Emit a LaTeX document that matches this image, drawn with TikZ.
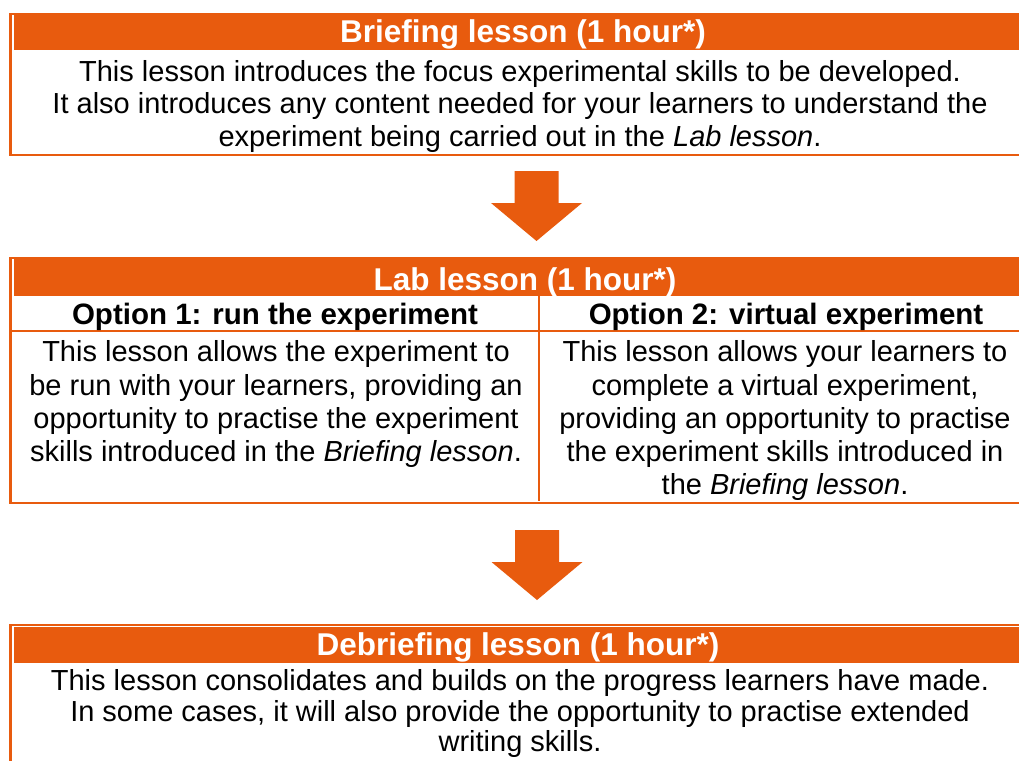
\documentclass[tikz,border=0pt]{standalone}
\usepackage{fontspec}
\setmainfont{Liberation Sans}
\usetikzlibrary{positioning}
\definecolor{lessonorange}{RGB}{232,91,14}
\tikzset{%
   frame/.style={
      draw=lessonorange,
      line width=2.4pt,
      inner sep=0pt,
      anchor=north west
   },
   headbar/.style={
      fill=lessonorange,
      inner sep=0pt,
      anchor=north west
   },
   title/.style={
      text=white,
      inner sep=0pt,
      anchor=base,
      font=\bfseries\fontsize{31.5}{34}\selectfont
   },
   colhead/.style={
      inner sep=0pt,
      anchor=base,
      font=\bfseries\fontsize{29.5}{34}\selectfont
   },
   body/.style={
      align=center,
      inner sep=0pt,
      anchor=north,
      font=\fontsize{29}{32.5}\selectfont
   },
   rule/.style={
      draw=lessonorange,
      line width=2pt
   },
   blockarrow/.style={
      fill=lessonorange
   },
}

\begin{document}
\begin{tikzpicture}[x=1pt, y=-1pt]
   \useasboundingbox (0,0) rectangle (1019,760);
   \clip (0,0) rectangle (1019,760);
   % briefing
   \node[frame, minimum width=1023pt, minimum height=141pt] (brief) at (9.2,13) {};
   \node[headbar, minimum width=1015pt, minimum height=36pt] (briefbar) at (13.5,14.2) {};
   \node[title] (brieftitle) at (523,42.5) {Briefing lesson (1 hour*)};
   \node[body] (brieftext) at (520,60.2) {This lesson introduces the focus experimental skills to be developed.\\
      It also introduces any content needed for your learners to understand the\\
      experiment being carried out in the \textit{Lab lesson}.};
   % lab
   \node[frame, minimum width=1023pt, minimum height=245pt] (lab) at (9.2,256.5) {};
   \node[headbar, minimum width=1015pt, minimum height=37pt] (labbar) at (13.5,259) {};
   \node[title] (labtitle) at (525,290.5) {Lab lesson (1 hour*)};
   \coordinate (rowl) at (9.2,331);
   \coordinate (rowr) at (1032,331);
   \coordinate (colt) at (539,296);
   \coordinate (colb) at (539,501);
   \draw[rule] (rowl) -- (rowr);
   \draw[rule] (colt) -- (colb);
   \node[colhead] (opt1) at (275,324) {Option 1: run the experiment};
   \node[colhead] (opt2) at (786,324) {Option 2: virtual experiment};
   \node[body, font=\fontsize{29}{33.3}\selectfont] (opt1text) at (276,340.5) {This lesson allows the experiment to\\
      be run with your learners, providing an\\
      opportunity to practise the experiment\\
      skills introduced in the \textit{Briefing lesson}.};
   \node[body, font=\fontsize{29}{33.3}\selectfont] (opt2text) at (785,340.5) {This lesson allows your learners to\\
      complete a virtual experiment,\\
      providing an opportunity to practise\\
      the experiment skills introduced in\\
      the \textit{Briefing lesson}.};
   % debriefing
   \node[frame, minimum width=1023pt, minimum height=160pt] (debrief) at (9.2,623.5) {};
   \node[headbar, minimum width=1015pt, minimum height=36pt] (debriefbar) at (13.5,627) {};
   \node[title] (debrieftitle) at (518,655) {Debriefing lesson (1 hour*)};
   \node[body, font=\fontsize{29}{30.5}\selectfont] (debrieftext) at (520,669.5) {This lesson consolidates and builds on the progress learners have made.\\
      In some cases, it will also provide the opportunity to practise extended\\
      writing skills.};
   % arrows
   \coordinate (arrowa) at (536.5,171);
   \coordinate (arrowb) at (537,530);
   \fill[blockarrow] (arrowa) ++(-22,0) -- ++(44,0) -- ++(0,32) -- ++(23.5,0)
      -- ++(-45.5,38) -- ++(-45.5,-38) -- ++(23.5,0) -- cycle;
   \fill[blockarrow] (arrowb) ++(-22,0) -- ++(44,0) -- ++(0,32) -- ++(23.5,0)
      -- ++(-45.5,38) -- ++(-45.5,-38) -- ++(23.5,0) -- cycle;
\end{tikzpicture}
\end{document}
